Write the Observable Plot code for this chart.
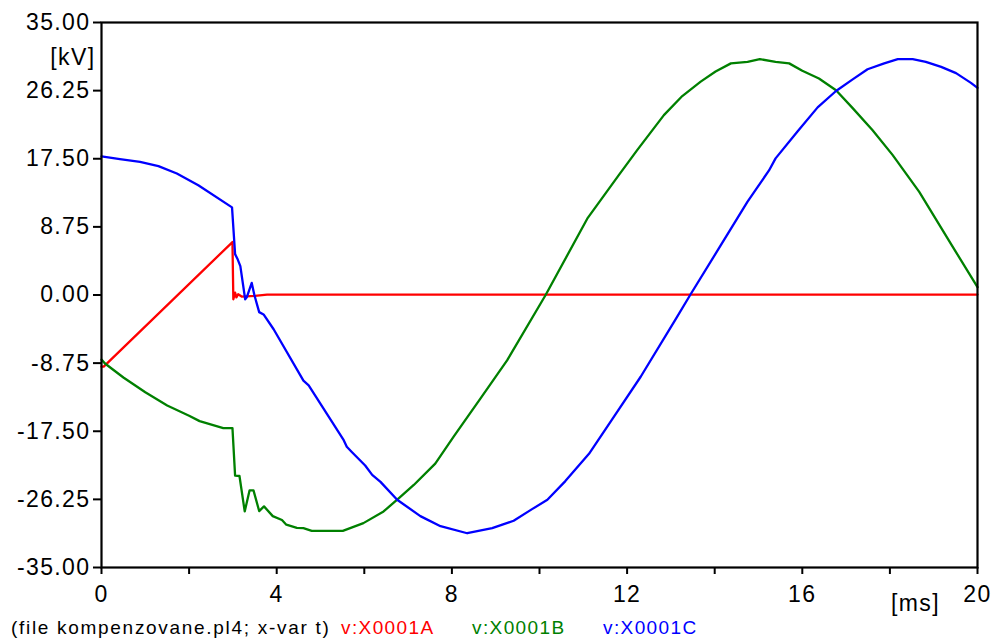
<!DOCTYPE html>
<html><head><meta charset="utf-8">
<script src="https://cdn.jsdelivr.net/npm/d3@7"></script>
<script src="https://cdn.jsdelivr.net/npm/@observablehq/plot@0.6"></script>
<style>
body{margin:0;background:#fff;font-family:"Liberation Sans",Arial,sans-serif;}
#wrap{position:relative;width:994px;height:641px;overflow:hidden;}
#cap{position:absolute;left:0;top:612px;width:994px;height:29px;font-size:19px;}
#cap span{position:absolute;top:6px;line-height:19px;white-space:nowrap;letter-spacing:1.4px;}
#cap span.f{letter-spacing:1.7px;}
svg text{letter-spacing:1.4px;}
</style>
</head><body>
<div id="wrap"><div id="chart"></div>
<div id="cap">
<span class="f" style="left:11px;color:#000">(file kompenzovane.pl4; x-var t)</span>
<span style="left:341px;color:#ff0000">v:X0001A</span>
<span style="left:472px;color:#008000">v:X0001B</span>
<span style="left:603px;color:#0000ff">v:X0001C</span>
</div></div>
<script>
// time [ms] and voltage [kV]
const tA = [0, 0.05, 2.99, 3.01, 3.05, 3.08, 3.12, 3.2, 3.5, 3.78, 20];
const vA = [-9.2, -9.2, 6.8, -0.55, 0.3, -0.3, 0.1, -0.2, -0.1, 0.05, 0.05];

const tB = [0, 0.08, 0.5, 1.0, 1.5, 2.0, 2.24, 2.78, 2.99, 3.05, 3.15, 3.27, 3.38, 3.47, 3.6, 3.71, 3.91, 4.12, 4.22, 4.46, 4.61, 4.8, 5.51, 5.98, 6.44, 6.81, 7.13, 7.62, 8.04, 8.65, 9.26, 10.14, 11.09, 11.81, 12.23, 12.84, 13.26, 13.68, 14.02, 14.37, 14.75, 15.03, 15.39, 15.7, 16.0, 16.38, 16.77, 17.15, 17.6, 18.06, 18.67, 19.39, 20];
const vB = [-8.3, -8.8, -10.6, -12.5, -14.2, -15.5, -16.2, -17.1, -17.1, -23.2, -23.25, -27.8, -25.1, -25.1, -27.75, -27.15, -28.4, -28.9, -29.5, -29.9, -29.95, -30.3, -30.3, -29.3, -27.8, -26.0, -24.4, -21.65, -18.2, -13.3, -8.4, 0, 9.8, 15.4, 18.6, 23.1, 25.55, 27.4, 28.7, 29.75, 29.95, 30.3, 29.95, 29.75, 28.8, 27.8, 26.3, 24.0, 21.2, 18.0, 13.25, 6.6, 1.0];

const tC = [0, 0.42, 0.88, 1.3, 1.72, 2.21, 2.98, 3.05, 3.1, 3.17, 3.28, 3.32, 3.43, 3.49, 3.6, 3.7, 3.93, 4.61, 4.73, 5.53, 5.6, 5.72, 6.02, 6.18, 6.37, 6.75, 7.28, 7.74, 8.35, 8.92, 9.41, 9.83, 10.18, 10.59, 11.13, 11.62, 12.31, 13.11, 13.44, 14.14, 14.75, 15.24, 15.39, 15.89, 16.35, 16.77, 17.15, 17.49, 17.87, 18.18, 18.52, 18.82, 19.17, 19.51, 19.85, 20];
const vC = [17.8, 17.45, 17.1, 16.55, 15.6, 14.1, 11.25, 5.25, 4.7, 3.7, -0.55, -0.25, 1.55, 0, -2.2, -2.5, -4.4, -11.0, -11.6, -18.65, -19.5, -20.2, -21.9, -23.1, -24.0, -26.3, -28.4, -29.7, -30.6, -29.95, -29.0, -27.5, -26.3, -23.9, -20.4, -16.3, -10.5, -3.1, 0, 6.4, 12.0, 16.0, 17.55, 21.0, 24.1, 26.2, 27.7, 29.0, 29.75, 30.3, 30.3, 29.95, 29.3, 28.5, 27.25, 26.6];

const yTicks = [-35, -26.25, -17.5, -8.75, 0, 8.75, 17.5, 26.25, 35];
const xTicks = [0, 2, 4, 6, 8, 10, 12, 14, 16, 18, 20];
const xLabels = [0, 4, 8, 12, 16, 20];

const mk = (ts, vs) => ts.map((t, i) => ({t, v: vs[i]}));
const dA = mk(tA, vA), dB = mk(tB, vB), dC = mk(tC, vC);

const chart = Plot.plot({
  width: 994, height: 612,
  marginLeft: 101, marginRight: 17, marginTop: 22, marginBottom: 45,
  x: {domain: [0, 20]},
  y: {domain: [-35, 35]},
  style: {fontSize: "23px", fontFamily: "'Liberation Sans', Arial, sans-serif", color: "black", background: "white", overflow: "visible"},
  marks: [
    Plot.line(dA, {x: "t", y: "v", stroke: "#ff0000", strokeWidth: 2.3}),
    Plot.line(dB, {x: "t", y: "v", stroke: "#008000", strokeWidth: 2.3}),
    Plot.line(dC, {x: "t", y: "v", stroke: "#0000ff", strokeWidth: 2.3}),
    Plot.frame({stroke: "black", strokeWidth: 2.2}),
    Plot.axisY({ticks: yTicks, tickFormat: d => d.toFixed(2), tickSize: 8, tickPadding: 3, strokeWidth: 2, label: null}),
    Plot.axisX({ticks: xTicks, tickFormat: d => xLabels.includes(d) ? String(d) : "", tickSize: 7, tickPadding: 11, strokeWidth: 2, label: null}),
    Plot.text(["[kV]"], {text: d => d, frameAnchor: "top-left", dx: -6, dy: 35, textAnchor: "end", lineAnchor: "middle"}),
    Plot.text(["[ms]"], {text: d => d, frameAnchor: "bottom-right", dx: -62, dy: 36, textAnchor: "middle", lineAnchor: "middle"})
  ]
});
document.getElementById("chart").appendChild(chart);
</script>
</body></html>
